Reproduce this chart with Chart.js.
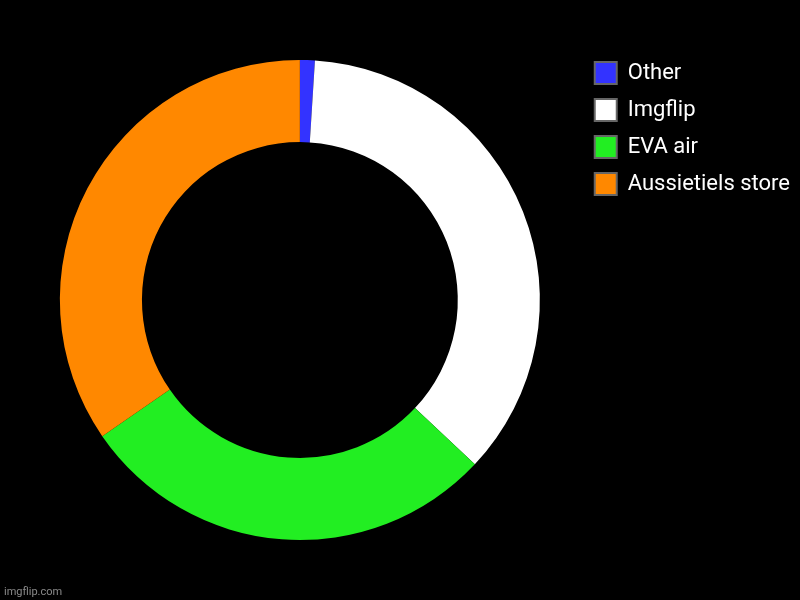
<!DOCTYPE html>
<html>
<head>
<meta charset="utf-8">
<script src="https://cdn.jsdelivr.net/npm/chart.js@4/dist/chart.umd.min.js"></script>
<style>
  html, body { margin: 0; padding: 0; background: #000; }
  #wrap { width: 800px; height: 600px; position: relative; }
</style>
</head>
<body>
<div id="wrap"><canvas id="ctx"></canvas></div>
<script>
var labels = ["Other", "Imgflip", "EVA air", "Aussietiels store"];
var values = [1, 36, 28.4, 34.6];
var colors = ['#3333ff', '#ffffff', '#22ee22', '#ff8800'];

// black background + imgflip watermark
var bgPlugin = {
    id: 'bg',
    beforeDraw: function (chart) {
        var c = chart.ctx;
        c.save();
        c.fillStyle = '#000';
        c.fillRect(0, 0, chart.width, chart.height);
        c.restore();
    },
    afterDraw: function (chart) {
        var c = chart.ctx;
        c.save();
        c.fillStyle = '#8a8a8a';
        c.font = '11px Roboto';
        c.textBaseline = 'alphabetic';
        c.fillText('imgflip.com', 4, 595);
        c.restore();
    }
};

var ctx = document.getElementById("ctx").getContext('2d');

var myChart = new Chart(ctx, {
    type: 'doughnut',
    data: {
        labels: labels,
        datasets: [{
            data: values,
            backgroundColor: colors,
            borderColor: colors,
            borderWidth: 0,
            radius: 240,
            cutout: '65.8%'
        }]
    },
    options: {
        responsive: true,
        maintainAspectRatio: false,
        animation: false,
        layout: { padding: { top: 47, bottom: 47, left: 20, right: 0 } },
        plugins: {
            tooltip: { enabled: false },
            legend: {
                position: 'right',
                align: 'start',
                labels: {
                    color: '#ffffff',
                    boxWidth: 22,
                    boxHeight: 22,
                    padding: 15,
                    font: { family: 'Roboto', size: 22 },
                    generateLabels: function (chart) {
                        var items = Chart.controllers.doughnut.overrides.plugins.legend.labels.generateLabels(chart);
                        items.forEach(function (it) {
                            it.strokeStyle = '#666666';
                            it.lineWidth = 2;
                        });
                        return items;
                    }
                }
            }
        }
    },
    plugins: [bgPlugin]
});
</script>
</body>
</html>
